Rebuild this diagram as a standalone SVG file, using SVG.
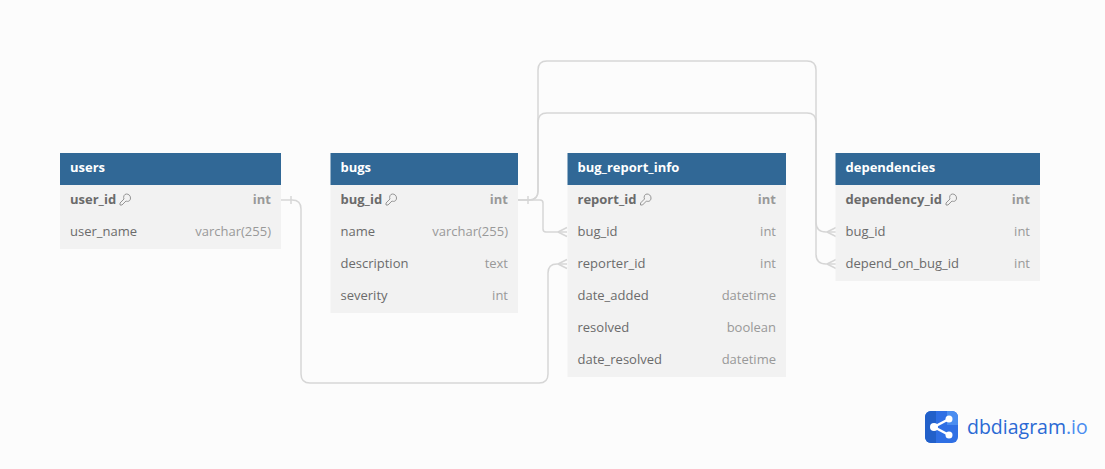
<svg xmlns="http://www.w3.org/2000/svg" width="1105" height="469" viewBox="0 0 1105 469">
<style>
text{font-family:"Open Sans","Noto Sans",sans-serif;font-size:13px}
.body{fill:#f2f2f2}
.head{fill:#316896}
.title{fill:#fff;font-weight:700}
.name{fill:#6b6b6b}
.pk{fill:#6b6b6b;font-weight:700}
.type{fill:#999;text-anchor:end}
.typeb{fill:#999;text-anchor:end;font-weight:700}
.conn{fill:none;stroke:#d6d6d6;stroke-width:1.5}
.key{fill:none;stroke:#8a8a8a;stroke-width:.9}
</style>
<defs>
<g id="keyicon" class="key"><path d="M-1 -0.500L-5 3.500V5.500H-3L1 1.500C3 2.500 5.500 1.500 5.500 -1.500C5.500 -4 3.500 -5.500 1.500 -5.500C-1 -5.500 -2 -2.500 -1 -0.500Z"/></g>
</defs>
<rect width="1105" height="469" fill="#fcfcfc"/>
<g id="connectors" class="conn">
<path d="M281 200H292Q301 200 301 209V374Q301 383 310 383H539Q548 383 548 374V273Q548 264 557 264H567"/>
<path d="M518 200H529Q538 200 538 191V70Q538 61 547 61H807Q816 61 816 70V222Q816 232 826 232H836"/>
<path d="M518 200H529Q538 200 538 191V122Q538 113 547 113H807Q816 113 816 122V254Q816 264 826 264H836"/>
<path d="M518 200H540Q543 200 543 203V229Q543 232 546 232H567"/>
<path d="M291 196V204M528 196V204M558 232L567 227.500M558 232L567 236.500M558 264L567 259.500M558 264L567 268.500M827 232L836 227.500M827 232L836 236.500M827 264L836 259.500M827 264L836 268.500"/>
</g>
<g id="users">
<rect class="body" x="60" y="185" width="221" height="64"/>
<rect class="head" x="60" y="153" width="221" height="32"/>
<text class="title" x="70" y="172">users</text>
<text class="pk" x="70" y="204">user_id</text><use href="#keyicon" x="125" y="199.500"/><text class="typeb" x="271" y="204">int</text>
<text class="name" x="70" y="236">user_name</text><text class="type" x="271" y="236">varchar(255)</text>
</g>
<g id="bugs">
<rect class="body" x="330.500" y="185" width="187.500" height="128"/>
<rect class="head" x="330.500" y="153" width="187.500" height="32"/>
<text class="title" x="340.500" y="172">bugs</text>
<text class="pk" x="340.500" y="204">bug_id</text><use href="#keyicon" x="391" y="199.500"/><text class="typeb" x="508" y="204">int</text>
<text class="name" x="340.500" y="236">name</text><text class="type" x="508" y="236">varchar(255)</text>
<text class="name" x="340.500" y="268">description</text><text class="type" x="508" y="268">text</text>
<text class="name" x="340.500" y="300">severity</text><text class="type" x="508" y="300">int</text>
</g>
<g id="bug_report_info">
<rect class="body" x="567.500" y="185" width="218.500" height="192"/>
<rect class="head" x="567.500" y="153" width="218.500" height="32"/>
<text class="title" x="577.500" y="172">bug_report_info</text>
<text class="pk" x="577.500" y="204">report_id</text><use href="#keyicon" x="645.500" y="199.500"/><text class="typeb" x="776" y="204">int</text>
<text class="name" x="577.500" y="236">bug_id</text><text class="type" x="776" y="236">int</text>
<text class="name" x="577.500" y="268">reporter_id</text><text class="type" x="776" y="268">int</text>
<text class="name" x="577.500" y="300">date_added</text><text class="type" x="776" y="300">datetime</text>
<text class="name" x="577.500" y="332">resolved</text><text class="type" x="776" y="332">boolean</text>
<text class="name" x="577.500" y="364">date_resolved</text><text class="type" x="776" y="364">datetime</text>
</g>
<g id="dependencies">
<rect class="body" x="835.500" y="185" width="204.500" height="96"/>
<rect class="head" x="835.500" y="153" width="204.500" height="32"/>
<text class="title" x="845.500" y="172">dependencies</text>
<text class="pk" x="845.500" y="204">dependency_id</text><use href="#keyicon" x="951" y="199.500"/><text class="typeb" x="1030" y="204">int</text>
<text class="name" x="845.500" y="236">bug_id</text><text class="type" x="1030" y="236">int</text>
<text class="name" x="845.500" y="268">depend_on_bug_id</text><text class="type" x="1030" y="268">int</text>
</g>
<g id="logo">
<rect x="925" y="411" width="33" height="32" rx="6" fill="#2f6fe4"/>
<path d="M925 417a6 6 0 0 1 6-6h5v32h-5a6 6 0 0 1-6-6z" fill="#2260c9"/>
<path d="M947 411h5a6 6 0 0 1 6 6v8h-11z" fill="#4a8df0"/>
<path d="M949 419L934 427L949 435" fill="none" stroke="#fff" stroke-width="2.500"/>
<circle cx="934" cy="427" r="4" fill="#fff"/><circle cx="949" cy="419" r="3.500" fill="#fff"/><circle cx="949" cy="435" r="3.500" fill="#fff"/>
<text x="967" y="434" style="font-size:19.500px" fill="#2a69d4">dbdiagram<tspan fill="#4a8df0">.io</tspan></text>
</g>
</svg>
